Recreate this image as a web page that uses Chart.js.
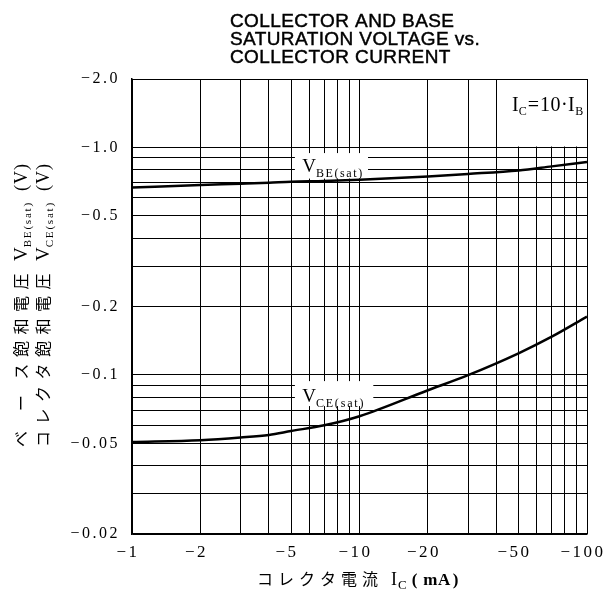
<!DOCTYPE html>
<html>
<head>
<meta charset="utf-8">
<script src="https://cdn.jsdelivr.net/npm/chart.js@4.4.1/dist/chart.umd.min.js"></script>
<style>
  html, body { margin: 0; padding: 0; background: #fff; }
  canvas { display: block; }
</style>
</head>
<body>
<canvas id="chart" width="604" height="599"></canvas>
<script>
// collector current (mA)
const icCurrent = [1, 2, 3, 4, 5, 7, 10, 20, 30, 50, 70, 100];
const vbeSat = [0.667, 0.684, 0.693, 0.700, 0.707, 0.712, 0.721, 0.746, 0.765, 0.793, 0.826, 0.863];
const vceSat = [0.0508, 0.0517, 0.0531, 0.0545, 0.0567, 0.0601, 0.0659, 0.0857, 0.0998, 0.1245, 0.1473, 0.1805];

// grid lines and labelled ticks
const xGridValues = [1, 2, 3, 4, 5, 6, 7, 8, 9, 10, 20, 30, 40, 50, 60, 70, 80, 90, 100];
const xLabelValues = [1, 2, 5, 10, 20, 50, 100];
const xLabelText = ["−1", "−2", "−5", "−10", "−20", "−50", "−100"];
const yGridValues = [0.02, 0.03, 0.04, 0.05, 0.06, 0.07, 0.08, 0.09, 0.1, 0.2, 0.3, 0.4, 0.5, 0.6, 0.7, 0.8, 0.9, 1.0, 2.0];
const yLabelValues = [0.02, 0.05, 0.1, 0.2, 0.5, 1.0, 2.0];
const yLabelText = ["−0.02", "−0.05", "−0.1", "−0.2", "−0.5", "−1.0", "−2.0"];

const SERIF = '"Liberation Serif", "DejaVu Serif", serif';
const SANS = '"Liberation Sans", Arial, sans-serif';
const CJK = '"Noto Sans CJK JP", sans-serif';

function labelFor(v, values, texts) {
  const i = values.findIndex(t => Math.abs(t - v) < 1e-9);
  return i >= 0 ? texts[i] : "";
}

// draw a run of text pieces one after the other
function runs(ctx, x, y, parts) {
  parts.forEach(p => {
    x += p.gap || 0;
    ctx.font = p.f;
    ctx.letterSpacing = (p.ls || 0) + "px";
    ctx.fillText(p.t, x, y + (p.dy || 0));
    x += ctx.measureText(p.t).width;
  });
  ctx.letterSpacing = "0px";
  return x;
}

const decorations = {
  id: "decorations",
  beforeDraw(chart) { chart.ctx.letterSpacing = "2.5px"; },
  beforeDatasetsDraw(chart) {
    chart.ctx.letterSpacing = "0px";
    const ctx = chart.ctx;
    const xs = chart.scales.x, ys = chart.scales.y, a = chart.chartArea;
    ctx.save();
    ctx.fillStyle = "#fff";
    // box for I_C = 10 I_B
    const bx = xs.getPixelForValue(40), by = ys.getPixelForValue(1.0);
    ctx.fillRect(bx + 1, a.top + 1, a.right - bx - 2, by - a.top - 2);
    // label backgrounds
    let x0 = xs.getPixelForValue(5.2), x1 = xs.getPixelForValue(10.9);
    ctx.fillRect(x0, ys.getPixelForValue(0.945), x1 - x0, ys.getPixelForValue(0.73) - ys.getPixelForValue(0.945));
    x1 = xs.getPixelForValue(11.5);
    ctx.fillRect(x0, ys.getPixelForValue(0.094), x1 - x0, ys.getPixelForValue(0.073) - ys.getPixelForValue(0.094));
    ctx.restore();
  },
  afterDraw(chart) {
    const ctx = chart.ctx;
    const xs = chart.scales.x, ys = chart.scales.y;
    ctx.save();
    ctx.fillStyle = "#000";
    ctx.strokeStyle = "#000";
    ctx.textBaseline = "alphabetic";
    ctx.textAlign = "left";

    // title (a thin stroke makes it a bit heavier, like the print)
    ctx.font = "19px " + SANS;
    ctx.letterSpacing = "0.4px";
    ctx.lineWidth = 0.45;
    [["COLLECTOR AND BASE", 27], ["SATURATION VOLTAGE vs.", 45], ["COLLECTOR CURRENT", 63]].forEach(([t, y]) => {
      ctx.fillText(t, 230, y);
      ctx.strokeText(t, 230, y);
    });

    // curve labels
    let lx = xs.getPixelForValue(5.6);
    runs(ctx, lx, ys.getPixelForValue(0.78), [
      { t: "V", f: "19px " + SERIF },
      { t: "BE(sat)", f: "12px " + SERIF, dy: 5, ls: 1.6 }
    ]);
    runs(ctx, lx, ys.getPixelForValue(0.0759), [
      { t: "V", f: "19px " + SERIF },
      { t: "CE(sat)", f: "12px " + SERIF, dy: 5, ls: 1.8 }
    ]);

    // I_C = 10 I_B
    runs(ctx, 512, 111, [
      { t: "I", f: "20px " + SERIF },
      { t: "C", f: "12px " + SERIF, dy: 4 },
      { t: "=", f: "20px " + SERIF, gap: 1 },
      { t: "10·I", f: "20px " + SERIF, gap: 1, ls: 0.5 },
      { t: "B", f: "12px " + SERIF, dy: 4 }
    ]);

    // x-axis title
    runs(ctx, 257, 585, [
      { t: "コレクタ電流", f: "16px " + CJK, ls: 5 },
      { t: "I", f: "18px " + SERIF, gap: 8 },
      { t: "C", f: "13px " + SERIF, dy: 4, gap: 1 },
      { t: "(", f: "bold 17px " + SERIF, gap: 5 },
      { t: "mA", f: "bold 17px " + SERIF, gap: 6, ls: 0.5 },
      { t: ")", f: "bold 17px " + SERIF, gap: 2 }
    ]);

    // y-axis titles, rotated
    const slot = 22.5, base = 447;
    function column(xBase, cjkParts, sub) {
      ctx.save();
      ctx.translate(xBase, 0);
      ctx.rotate(-Math.PI / 2);
      cjkParts.forEach(p => {
        ctx.font = "16px " + CJK;
        ctx.letterSpacing = "6.5px";
        ctx.fillText(p.t, -(base - p.k * slot), 0);
      });
      runs(ctx, -261, 0, [
        { t: "V", f: "19px " + SERIF },
        { t: sub, f: "11px " + SERIF, dy: 4, ls: 1.8 }
      ]);
      runs(ctx, -191, 0, [{ t: "(V)", f: "18px " + SERIF, ls: 1 }]);
      ctx.restore();
    }
    column(27, [{ t: "ベ", k: 0 }, { t: "ー", k: 1.6 }, { t: "ス", k: 3 }, { t: "飽和電圧", k: 4 }], "BE(sat)");
    column(49, [{ t: "コレクタ飽和電圧", k: 0 }], "CE(sat)");
    ctx.restore();
  }
};

const ctx = document.getElementById("chart").getContext("2d");

const curve = (ys) => ({
  data: icCurrent.map((x, i) => ({ x, y: ys[i] })),
  showLine: true,
  borderColor: "#000",
  borderWidth: 2.5,
  pointRadius: 0,
  cubicInterpolationMode: "monotone",
  fill: false
});

new Chart(ctx, {
  type: "scatter",
  data: { datasets: [curve(vbeSat), curve(vceSat)] },
  options: {
    responsive: false,
    animation: false,
    layout: { padding: { top: 79, right: 17, left: 0, bottom: 0 } },
    plugins: { legend: { display: false }, tooltip: { enabled: false } },
    scales: {
      x: {
        type: "logarithmic",
        min: 1,
        max: 100,
        afterBuildTicks: s => { s.ticks = xGridValues.map(v => ({ value: v })); },
        afterFit: s => { s.height = 65; s.paddingLeft = 0; s.paddingRight = 0; },
        grid: { color: "#000", lineWidth: 1, drawTicks: false },
        border: { color: "#000", width: 1.5 },
        ticks: {
          autoSkip: false,
          maxRotation: 0,
          padding: 8,
          labelOffset: -4,
          color: "#000",
          font: { family: SERIF, size: 17 },
          callback: v => labelFor(v, xLabelValues, xLabelText)
        }
      },
      y: {
        type: "logarithmic",
        min: 0.02,
        max: 2.0,
        afterBuildTicks: s => { s.ticks = yGridValues.map(v => ({ value: v })); },
        afterFit: s => { s.width = 132; s.paddingTop = 0; s.paddingBottom = 0; },
        grid: { color: "#000", lineWidth: 1, drawTicks: false },
        border: { color: "#000", width: 1.5 },
        ticks: {
          autoSkip: false,
          padding: 12,
          color: "#000",
          font: { family: SERIF, size: 16 },
          callback: v => labelFor(v, yLabelValues, yLabelText)
        }
      }
    }
  },
  plugins: [decorations]
});
</script>
</body>
</html>
